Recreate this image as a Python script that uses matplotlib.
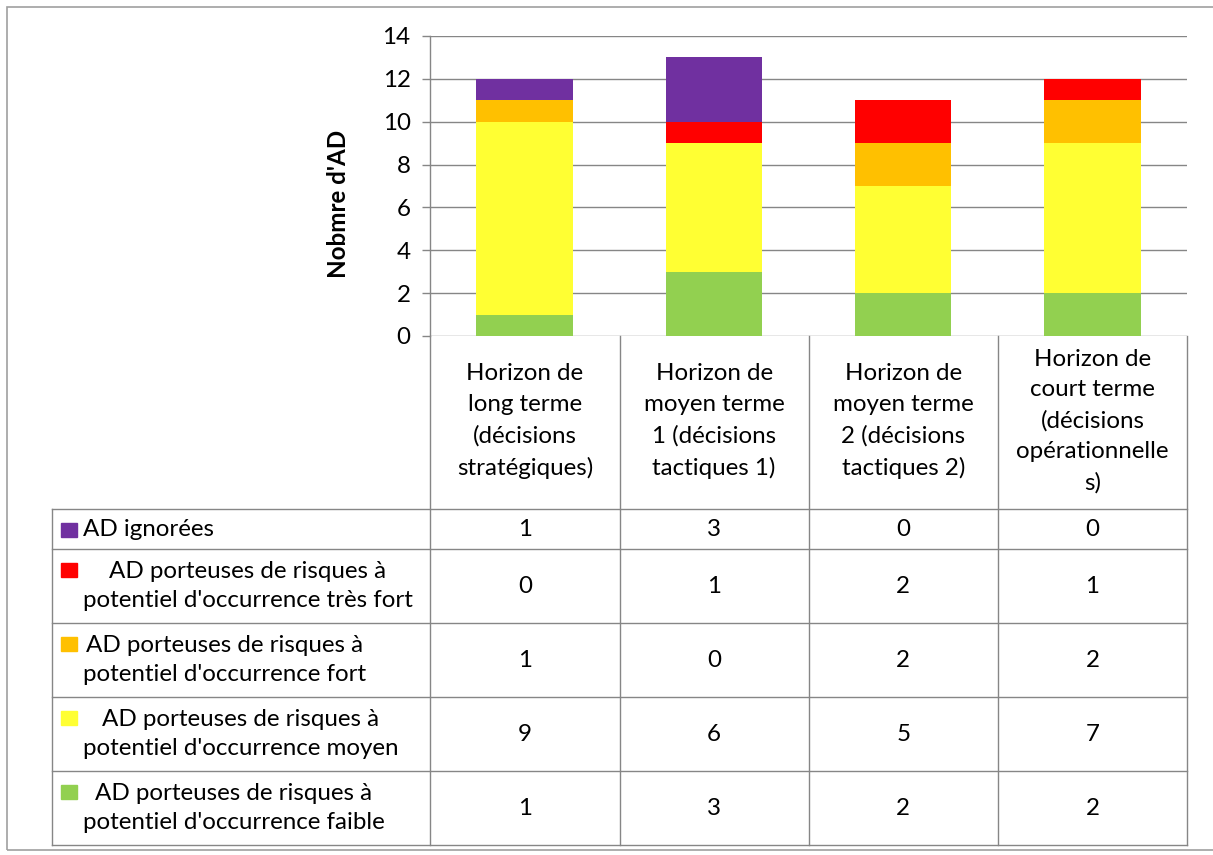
import matplotlib
matplotlib.use("Agg")
import matplotlib.pyplot as plt
from matplotlib.patches import Rectangle
import numpy as np

plt.rcParams['font.family'] = ['Lato', 'DejaVu Sans']

categories = ["Horizon de\nlong terme\n(décisions\nstratégiques)",
              "Horizon de\nmoyen terme\n1 (décisions\ntactiques 1)",
              "Horizon de\nmoyen terme\n2 (décisions\ntactiques 2)",
              "Horizon de\ncourt terme\n(décisions\nopérationnelle\ns)"]

# bottom to top order
series_names = ["AD porteuses de risques à\npotentiel d'occurrence faible",
                "AD porteuses de risques à\npotentiel d'occurrence moyen",
                "AD porteuses de risques à\npotentiel d'occurrence fort",
                "AD porteuses de risques à\npotentiel d'occurrence très fort",
                "AD ignorées"]
faible = [1, 3, 2, 2]
moyen = [9, 6, 5, 7]
fort = [1, 0, 2, 2]
tres_fort = [0, 1, 2, 1]
ignorees = [1, 3, 0, 0]
series_values = [faible, moyen, fort, tres_fort, ignorees]
colors = ["#92D050", "#FFFF33", "#FFC000", "#FF0000", "#7030A0"]
yticks = [0, 2, 4, 6, 8, 10, 12, 14]

W, H = 1213, 855
fig = plt.figure(figsize=(W / 100, H / 100), dpi=100)
grid_c = "#868686"
FS = 17.4

def fx(px):
    return px / W

def fy(py):
    return 1 - py / H

# outer border
fig.add_artist(Rectangle((fx(7), fy(850)), fx(1215) - fx(7), fy(7) - fy(850),
                         transform=fig.transFigure, fill=False, edgecolor="#A0A0A0", lw=1.2))

# bar axes
ax = fig.add_axes([fx(430), fy(336), fx(1187) - fx(430), fy(36) - fy(336)])
x = np.arange(len(categories))
bottom = np.zeros(len(categories))
for vals, c, name in zip(series_values, colors, series_names):
    ax.bar(x, vals, bottom=bottom, width=0.51, color=c, label=name, zorder=3)
    bottom += np.array(vals)
ax.set_xlim(-0.5, 3.5)
ax.set_ylim(0, 14)
ax.set_yticks(yticks)
ax.set_xticks([])
ax.yaxis.grid(True, color=grid_c, lw=1.0, zorder=0)
for s in ["top", "right", "bottom"]:
    ax.spines[s].set_visible(False)
ax.spines["left"].set_color(grid_c)
ax.spines["left"].set_linewidth(1.0)
ax.tick_params(axis="y", length=6, width=1.0, color=grid_c, pad=8, labelsize=FS)
fig.text(fx(339), fy(204), "Nobmre d'AD", rotation=90, ha="center", va="center",
         fontsize=FS, fontweight="bold")

# table axes
tax = fig.add_axes([fx(52), fy(845), fx(1187) - fx(52), fy(336) - fy(845)])
tax.set_xlim(-2.5, 3.5)
tax.set_ylim(845, 336)
tax.axis("off")
row_edges = [509, 549, 623, 697, 771, 845]
for yy in row_edges:
    tax.plot([-2.5, 3.5], [yy, yy], color=grid_c, lw=1.0, clip_on=False)
tax.plot([-2.5, -2.5], [509, 845], color=grid_c, lw=1.0, clip_on=False)
for xx in [-0.5, 0.5, 1.5, 2.5, 3.5]:
    tax.plot([xx, xx], [336, 845], color=grid_c, lw=1.0, clip_on=False)

for i, cat in enumerate(categories):
    tax.text(i, 421, cat, ha="center", va="center", fontsize=FS,
             linespacing=1.56, multialignment="center")

# rows top to bottom
row_order = [4, 3, 2, 1, 0]
u = 1 / 189.1667
for r, si in enumerate(row_order):
    y0, y1 = row_edges[r], row_edges[r + 1]
    yc = (y0 + y1) / 2
    tax.add_patch(Rectangle((-2.5 + 9 * u, y0 + 14 + 14), 16 * u, -14,
                            color=colors[si], clip_on=False))
    tax.text(-2.5 + 31 * u, yc, series_names[si], ha="left", va="center",
             fontsize=FS, linespacing=1.5, multialignment="center")
    for i, v in enumerate(series_values[si]):
        tax.text(i, yc, str(v), ha="center", va="center", fontsize=FS)

fig.savefig("out.png", dpi=100)
